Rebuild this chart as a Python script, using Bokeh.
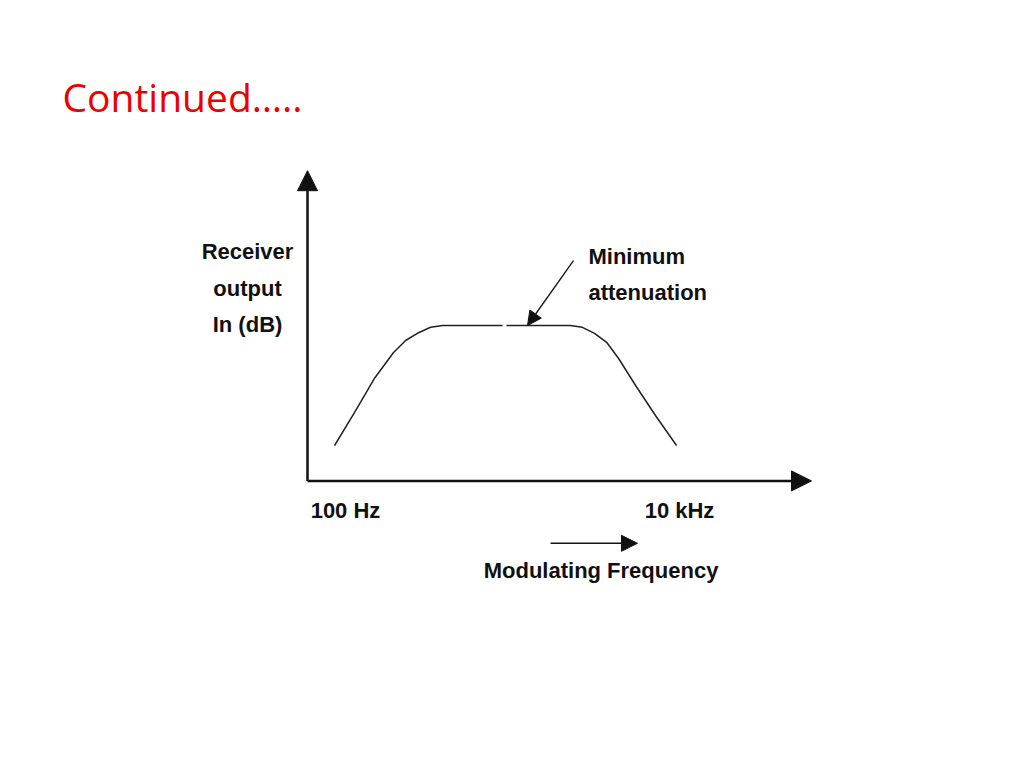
from bokeh.plotting import figure
from bokeh.models import Range1d, Arrow, NormalHead, Label
from bokeh.embed import file_html
from bokeh.resources import INLINE

# ---- data (frequency in Hz, receiver output in relative dB) ----
freq_rise_hz = [86, 115, 150, 194, 229, 274, 323, 381, 871]
gain_rise_db = [-20, -14.2, -8.7, -4.5, -2.5, -1.2, -0.3, 0, 0]
freq_fall_hz = [920, 2220, 2620, 3100, 3660, 4320, 5460, 7180, 9600]
gain_fall_db = [0, 0, -0.3, -1.3, -2.8, -5.5, -10, -15, -20]

tick_freqs_hz = [100, 10000]
tick_labels = ["100 Hz", "10 kHz"]

y_label_lines = ["Receiver", "output", "In (dB)"]
note_lines = ["Minimum", "attenuation"]
x_title = "Modulating Frequency"
slide_title = "Continued….."

# ---- scales: log10 frequency, 167 px per decade; 6 px per dB ----
W, H = 1008, 752
DEC_PX = 167.0
DB_PX = 6.0
X0 = 10 ** (2 - 345 / DEC_PX)
X1 = 10 ** (2 + (W - 345) / DEC_PX)
Y0 = (325 - H) / DB_PX
Y1 = 325 / DB_PX

AXIS_F = 10 ** (2 - 38 / DEC_PX)      # where the vertical axis stands
AXIS_DB = -25.9                        # where the horizontal axis lies
TOP_DB = 25.8
END_F = 10 ** (2 + 466 / DEC_PX)

FONT = "Liberation Sans"
INK = "#111111"

p = figure(width=W, height=H, x_axis_type="log",
           x_axis_location=None, y_axis_location=None,
           x_range=Range1d(X0, X1), y_range=Range1d(Y0, Y1),
           output_backend="svg", toolbar_location=None, min_border=0)
p.outline_line_color = None
p.xgrid.visible = False
p.ygrid.visible = False
p.background_fill_color = "white"
p.border_fill_color = "white"

# axes with arrow heads
p.add_layout(Arrow(end=NormalHead(size=20, fill_color=INK, line_color=INK),
                   x_start=AXIS_F, y_start=AXIS_DB, x_end=AXIS_F, y_end=TOP_DB,
                   line_width=2.5, line_color=INK))
p.add_layout(Arrow(end=NormalHead(size=20, fill_color=INK, line_color=INK),
                   x_start=AXIS_F, y_start=AXIS_DB, x_end=END_F, y_end=AXIS_DB,
                   line_width=2.5, line_color=INK))

# response curve
p.line(freq_rise_hz, gain_rise_db, line_color="#222222", line_width=1.5)
p.line(freq_fall_hz, gain_fall_db, line_color="#222222", line_width=1.5)

# annotation arrow "Minimum attenuation"
p.add_layout(Arrow(end=NormalHead(size=14, fill_color=INK, line_color=INK),
                   x_start=2317, y_start=10.8, x_end=1230, y_end=0.0,
                   line_width=1.3, line_color=INK))

# frequency direction arrow
p.add_layout(Arrow(end=NormalHead(size=16, fill_color=INK, line_color=INK),
                   x_start=1690, y_start=-36.3, x_end=5600, y_end=-36.3,
                   line_width=1.6, line_color=INK))

def lab(x, y, t, align="center", size="22px", units="data", font=FONT,
        color=INK, style="bold"):
    p.add_layout(Label(x=x, y=y, text=t, x_units=units, y_units=units,
                       text_align=align, text_baseline="alphabetic",
                       text_font=font, text_font_size=size,
                       text_font_style=style, text_color=color))

for f, t in zip(tick_freqs_hz, tick_labels):
    lab(f, -30.8, t)

lab(3390, -40.8, x_title)

for i, t in enumerate(y_label_lines):
    lab(25.9, 12.3 - 6.05 * i, t)

for i, t in enumerate(note_lines):
    lab(2851, 11.5 - 6.0 * i, t, align="left")

# slide title (screen units from bottom-left of the canvas)
lab(62, H - 96, slide_title, align="left", size="39px", units="screen",
    font="Open Sans", color="#EE0000", style="normal")

open("out.html", "w").write(file_html(p, INLINE))
